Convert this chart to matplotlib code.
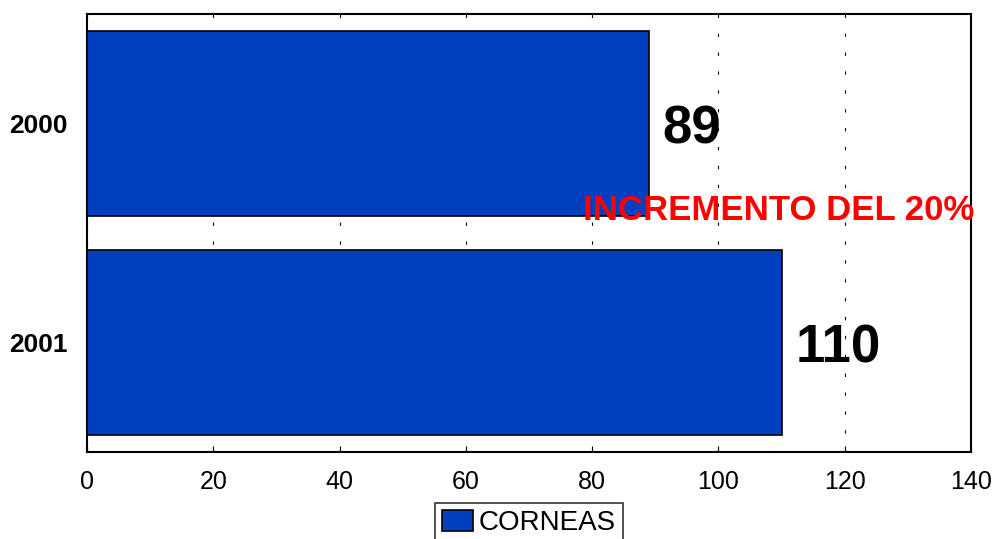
import numpy as np
import matplotlib.pyplot as plt

plt.rcParams['font.family'] = ['Liberation Sans', 'DejaVu Sans']

# data
years = ['2000', '2001']
corneas = [89, 110]
note = 'INCREMENTO DEL 20%'
xticks = [0, 20, 40, 60, 80, 100, 120, 140]

bar_color = '#0040C0'

fig = plt.figure(figsize=(9.96, 5.39), dpi=100)
ax = fig.add_axes([87/996, 1 - 452/539, (971 - 87)/996, (452 - 14)/539])

ypos = np.arange(len(years))
bars = ax.barh(ypos, corneas, height=0.845, color=bar_color, edgecolor='black',
               linewidth=1.2, label='CORNEAS', zorder=3)

ax.set_xlim(0, 140)
ax.set_ylim(1.5, -0.5)
ax.set_xticks(xticks)
ax.set_yticks(ypos)
ax.set_yticklabels(years, fontsize=19, fontweight='bold')
ax.tick_params(axis='x', direction='in', length=4, labelsize=18, pad=13, top=False)
ax.tick_params(axis='y', length=0, pad=14)
ax.xaxis.grid(True, color='black', linewidth=0.8, linestyle=(0, (3, 14)), zorder=1)
ax.set_axisbelow(True)
for s in ax.spines.values():
    s.set_linewidth(1.5)

for b, v in zip(bars, corneas):
    ax.annotate(str(v), (v, b.get_y() + b.get_height()/2), xytext=(10, -4),
                textcoords='offset points', va='center', ha='left',
                fontsize=38, fontweight='bold', zorder=5)

ax.text(109.6, 0.395, note, color='red', fontsize=25, fontweight='bold',
        ha='center', va='center', zorder=6)

leg = fig.legend(loc='lower center', bbox_to_anchor=(529/996, -4/539), fontsize=20,
                 frameon=True, fancybox=False, handlelength=1.1, handleheight=0.8,
                 handletextpad=0.2, borderpad=0.25, borderaxespad=0)
leg.get_frame().set_edgecolor('black')
leg.get_frame().set_linewidth(1.2)

fig.savefig('out.png', dpi=100)
